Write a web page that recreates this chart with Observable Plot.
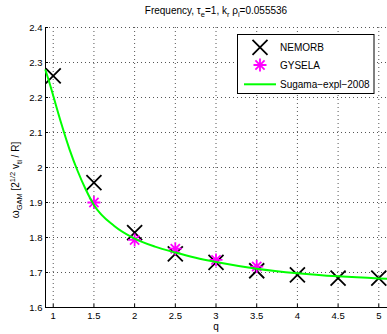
<!DOCTYPE html>
<html><head><meta charset="utf-8">
<script src="https://cdn.jsdelivr.net/npm/d3@7"></script>
<script src="https://cdn.jsdelivr.net/npm/@observablehq/plot@0.6"></script>
<style>body{margin:0;background:#fff} #chart{position:relative;width:387px;height:334px}</style>
</head><body><div id="chart"></div><script>
// ---- data ----
const qNemorb = [1, 1.5, 2, 2.5, 3, 3.5, 4, 4.5, 5];
const wNemorb = [2.262, 1.957, 1.814, 1.753, 1.729, 1.705, 1.693, 1.684, 1.684];
const qGysela = [1.5, 2, 2.5, 3, 3.5];
const wGysela = [1.900, 1.793, 1.768, 1.736, 1.717];
const qSugama = [0.905, 0.95, 1.0, 1.1, 1.2, 1.3, 1.4, 1.5, 1.75, 2, 2.25, 2.5, 2.75, 3, 3.5, 4, 4.5, 5, 5.107];
const wSugama = [2.278, 2.245, 2.205, 2.125, 2.052, 1.990, 1.937, 1.893, 1.833, 1.797, 1.774, 1.757, 1.742, 1.730, 1.711, 1.698, 1.689, 1.683, 1.682];
const xTicks = [1, 1.5, 2, 2.5, 3, 3.5, 4, 4.5, 5];
const yTicks = [1.6, 1.7, 1.8, 1.9, 2, 2.1, 2.2, 2.3, 2.4];
const xDomain = [0.905, 5.107];
const yDomain = [1.6, 2.4];
const seriesNames = ["NEMORB", "GYSELA", "Sugama\u2212expl\u22122008"];

const nemorb = qNemorb.map((q, i) => ({q, w: wNemorb[i]}));
const gysela = qGysela.map((q, i) => ({q, w: wGysela[i]}));
const sugama = qSugama.map((q, i) => ({q, w: wSugama[i]}));

const timesSym = {draw(ctx, size) {const r = Math.sqrt(size / Math.PI);
  ctx.moveTo(-r, -r); ctx.lineTo(r, r); ctx.moveTo(r, -r); ctx.lineTo(-r, r);}};
const starSym = {draw(ctx, size) {const r = Math.sqrt(size / Math.PI), d = r * 0.7071;
  ctx.moveTo(0, -r); ctx.lineTo(0, r); ctx.moveTo(-r, 0); ctx.lineTo(r, 0);
  ctx.moveTo(-d, -d); ctx.lineTo(d, d); ctx.moveTo(d, -d); ctx.lineTo(-d, d);}};

const FONT = "'Liberation Sans', Arial, Helvetica, sans-serif";
const gridStyle = {stroke: "#555", strokeWidth: 1, strokeDasharray: "1,3"};
const fmt = d => String(d);

const svg = Plot.plot({
  width: 387, height: 334,
  marginLeft: 45, marginRight: 0, marginTop: 27, marginBottom: 27,
  style: {fontFamily: FONT, fontSize: "9.5px", color: "black", background: "white"},
  x: {domain: xDomain},
  y: {domain: yDomain},
  marks: [
    Plot.ruleX(xTicks, gridStyle),
    Plot.ruleY(yTicks, gridStyle),
    Plot.ruleX([xDomain[0]], {stroke: "black", strokeWidth: 1}),
    Plot.ruleY([yDomain[0]], {stroke: "black", strokeWidth: 1}),
    Plot.axisX(xTicks, {tickSize: 0, tickPadding: 5, tickFormat: fmt, label: null}),
    Plot.axisX(xTicks, {tickSize: -3, tickFormat: () => "", label: null}),
    Plot.axisY(yTicks, {tickSize: 0, tickPadding: 3, tickFormat: fmt, label: null}),
    Plot.axisY(yTicks, {tickSize: -3, tickFormat: () => "", label: null}),
    Plot.dot(nemorb, {x: "q", y: "w", symbol: timesSym, r: 7.5, stroke: "black", strokeWidth: 1.8, fill: "none"}),
    Plot.dot(gysela, {x: "q", y: "w", symbol: starSym, r: 6.5, stroke: "#ff00ff", strokeWidth: 1.8, fill: "none"}),
    Plot.line(sugama, {x: "q", y: "w", stroke: "#00ff00", strokeWidth: 2, curve: "monotone-x"})
  ]
});
document.getElementById("chart").appendChild(svg);

const s = d3.select(svg);
// title
const t = s.append("text").attr("x", 216).attr("y", 14).attr("text-anchor", "middle")
  .attr("font-size", 10).attr("fill", "black").attr("font-family", FONT);
t.append("tspan").text("Frequency, \u03c4");
t.append("tspan").attr("dy", 3).attr("font-size", 7.5).text("e");
t.append("tspan").attr("dy", -3).text("=1, k");
t.append("tspan").attr("dy", 3).attr("font-size", 7.5).text("r");
t.append("tspan").attr("dy", -3).text(" \u03c1");
t.append("tspan").attr("dy", 3).attr("font-size", 7.5).text("i");
t.append("tspan").attr("dy", -3).text("=0.055536");
// x label
s.append("text").attr("x", 216).attr("y", 330).attr("text-anchor", "middle")
  .attr("font-size", 10).attr("fill", "black").attr("font-family", FONT).text("q");
// y label
const yl = s.append("text").attr("transform", "translate(19,180) rotate(-90)").attr("text-anchor", "middle")
  .attr("font-size", 10).attr("fill", "black").attr("font-family", FONT);
yl.append("tspan").text("\u03c9");
yl.append("tspan").attr("dy", 3).attr("font-size", 7.5).text("GAM");
yl.append("tspan").attr("dy", -3).text(" [2");
yl.append("tspan").attr("dy", -4).attr("font-size", 7.5).text("1/2");
yl.append("tspan").attr("dy", 4).text(" v");
yl.append("tspan").attr("dy", 3).attr("font-size", 7.5).text("ti");
yl.append("tspan").attr("dy", -3).text(" / R]");
// legend
const lg = s.append("g");
lg.append("rect").attr("x", 237.5).attr("y", 34.5).attr("width", 136.5).attr("height", 59)
  .attr("fill", "white").attr("stroke", "black").attr("stroke-width", 1);
const rowsY = [47.3, 65, 84.3];
const symX = 260;
lg.append("path").attr("transform", `translate(${symX},${rowsY[0]})`)
  .attr("d", d3.symbol(timesSym, Math.PI * 7.5 * 7.5)()).attr("stroke", "black").attr("stroke-width", 1.8).attr("fill", "none");
lg.append("path").attr("transform", `translate(${symX},${rowsY[1]})`)
  .attr("d", d3.symbol(starSym, Math.PI * 6.5 * 6.5)()).attr("stroke", "#ff00ff").attr("stroke-width", 1.8).attr("fill", "none");
lg.append("line").attr("x1", 244).attr("x2", 276).attr("y1", rowsY[2]).attr("y2", rowsY[2])
  .attr("stroke", "#00ff00").attr("stroke-width", 2);
seriesNames.forEach((n, i) => {
  lg.append("text").attr("x", 280).attr("y", rowsY[i]).attr("dy", "0.35em").attr("text-anchor", "start")
    .attr("font-size", 10).attr("fill", "black").attr("font-family", FONT).text(n);
});
</script></body></html>
